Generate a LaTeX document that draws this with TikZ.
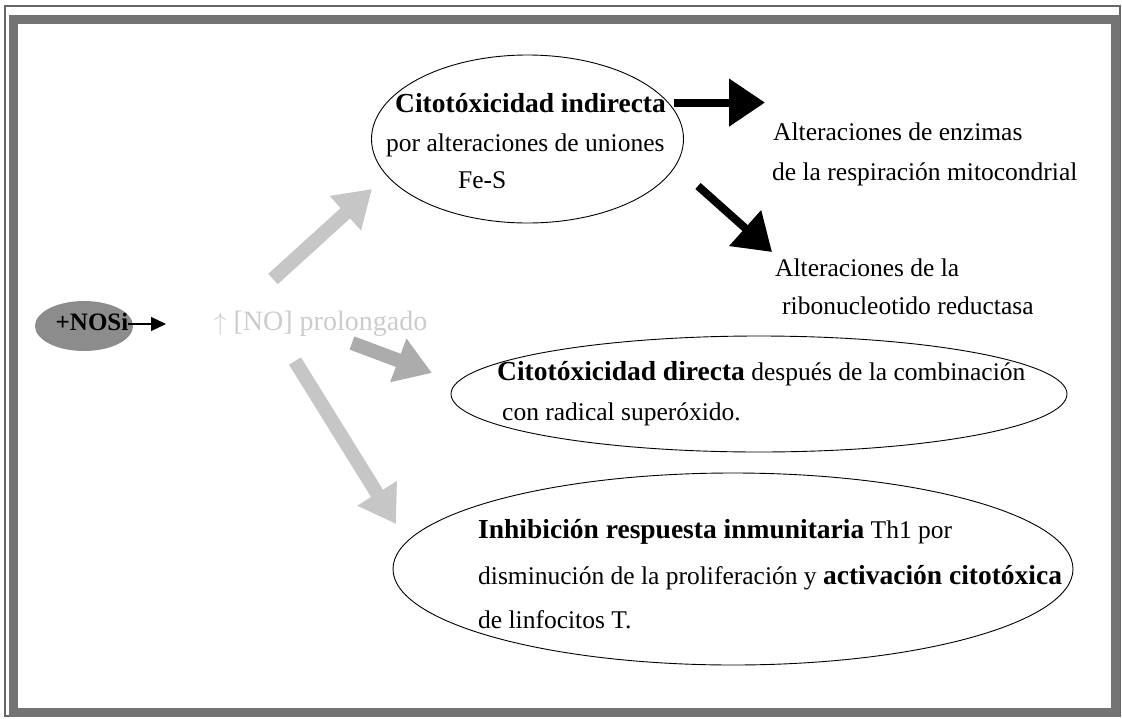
\documentclass[tikz,border=0pt]{standalone}
\usepackage{fontspec}
\setmainfont{Liberation Serif}
\usetikzlibrary{shapes.geometric,arrows.meta}
\newcommand\RegF{\fontsize{25.5}{29}\selectfont}
\newcommand\BoldF{\fontsize{27.5}{31}\selectfont\bfseries}
\begin{document}
\begin{tikzpicture}[x=1pt,y=-1pt,
 reg/.style={font=\RegF, inner sep=0pt, anchor=base west},
 ell/.style={draw, ellipse, line width=0.9pt, inner sep=0pt},
 blk/.style={line width=8pt, -{Triangle[length=36pt,width=46pt]}},
 gryA/.style={line width=14pt, draw=gray!45, -{Triangle[length=36pt,width=44pt,fill=gray!45]}},
 gryB/.style={line width=14pt, draw=gray!65, -{Triangle[length=36pt,width=44pt,fill=gray!65]}},
]
\useasboundingbox (0,0) rectangle (1122,718);
\fill[white] (0,0) rectangle (1122,718);
% frame
\draw[line width=1.2pt, black!60] (5,6) rectangle (1120,716);
\draw[line width=9pt, black!55] (13,19) rectangle (1115,712);

% ellipses
\node[ell, minimum width=312pt, minimum height=168pt] (ind) at (527.5,139) {};
\node[ell, minimum width=616pt, minimum height=116pt] (dir) at (759,394) {};
\node[ell, minimum width=680pt, minimum height=192pt] (inh) at (733,569) {};
\node[ellipse, fill=black!45, minimum width=98pt, minimum height=50pt, inner sep=0pt] (nosi) at (84,326) {};
\node[font=\fontsize{25}{28}\selectfont\bfseries, inner sep=0pt] (nosit) at (92,322) {+NOSi};

% NO text
\node[reg, text=gray!40, font=\fontsize{28}{32}\selectfont] (no) at (214,330) {\(\uparrow\) [NO] prolongado};

% texts top ellipse
\node[reg] (t1a) at (395,112) {\BoldF Citotóxicidad indirecta};
\node[reg] (t1b) at (386,151) {por alteraciones de uniones};
\node[reg] (t1c) at (458,188) {Fe-S};

% right texts
\node[reg] (enz1) at (773,140) {Alteraciones de enzimas};
\node[reg] (enz2) at (772,180) {de la respiración mitocondrial};
\node[reg] (rib1) at (775,276) {Alteraciones de la};
\node[reg] (rib2) at (782,314) {ribonucleotido reductasa};

% middle texts
\node[reg] (t2a) at (497,380) {{\BoldF Citotóxicidad directa} después de la combinación};
\node[reg] (t2b) at (502,420) {con radical superóxido.};

% bottom texts
\node[reg] (t3a) at (478,538) {{\BoldF Inhibición respuesta inmunitaria} Th1 por};
\node[reg] (t3b) at (478,584) {disminución de la proliferación y {\BoldF activación citotóxica}};
\node[reg] (t3c) at (478,628) {de linfocitos T.};

% coordinates for connector ends
\coordinate (b1s) at ([xshift=8pt]t1a.east);
\coordinate (b1e) at ([xshift=-8pt]enz1.west |- b1s);
\coordinate (b2s) at (698,186);
\coordinate (b2e) at (772,252);
\coordinate (gAs) at (273,279);
\coordinate (gAe) at (372,189);
\coordinate (gBs) at (352,343);
\coordinate (gBe) at (432,373);
\coordinate (gCs) at (295,361);
\coordinate (gCe) at (396,524);
\coordinate (arr) at (166,324);

% connectors
\draw[line width=1.2pt, -{Triangle[length=15pt,width=14pt]}] (nosit.east |- arr) -- (arr);
\draw[blk] (b1s) -- (b1e);
\draw[blk] (b2s) -- (b2e);
\draw[gryA] (gAs) -- (gAe);
\draw[gryB] (gBs) -- (gBe);
\draw[gryA] (gCs) -- (gCe);
\end{tikzpicture}
\end{document}
